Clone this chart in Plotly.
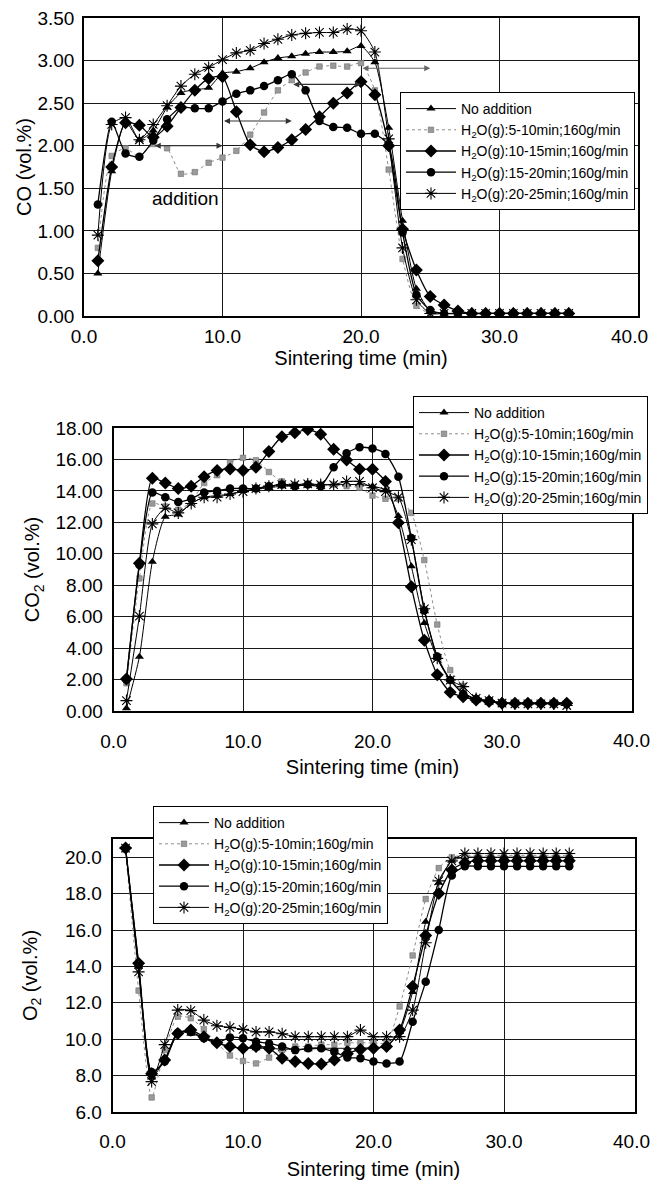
import plotly.graph_objects as go

# ---------------- data ----------------
t = list(range(1, 36))

series_names = [
    "No addition",
    "H<sub>2</sub>O(g):5-10min;160g/min",
    "H<sub>2</sub>O(g):10-15min;160g/min",
    "H<sub>2</sub>O(g):15-20min;160g/min",
    "H<sub>2</sub>O(g):20-25min;160g/min",
]

# CO (vol.%)
co_none = [0.50, 1.70, 2.28, 2.07, 2.18, 2.45, 2.62, 2.66, 2.68, 2.85, 2.87, 2.91, 2.98, 3.03, 3.05,
           3.08, 3.10, 3.10, 3.11, 3.17, 2.98, 2.21, 1.12, 0.32, 0.06, 0.03, 0.03, 0.03, 0.03, 0.03,
           0.03, 0.03, 0.03, 0.03, 0.03]
co_5_10 = [0.80, 1.88, 1.97, 1.87, 2.02, 1.97, 1.67, 1.69, 1.80, 1.86, 1.94, 2.13, 2.39, 2.65, 2.77,
           2.86, 2.93, 2.94, 2.93, 2.97, 2.65, 1.72, 0.67, 0.12, 0.03, 0.03, 0.03, 0.03, 0.03, 0.03,
           0.03, 0.03, 0.03, 0.03, 0.03]
co_10_15 = [0.65, 1.75, 2.27, 2.24, 2.10, 2.23, 2.45, 2.65, 2.79, 2.81, 2.40, 2.01, 1.93, 1.98, 2.07,
            2.19, 2.34, 2.50, 2.62, 2.75, 2.60, 2.00, 1.02, 0.54, 0.23, 0.13, 0.06, 0.03, 0.03, 0.03,
            0.03, 0.03, 0.03, 0.03, 0.03]
co_15_20 = [1.31, 2.28, 1.91, 1.87, 2.06, 2.31, 2.45, 2.44, 2.44, 2.52, 2.61, 2.65, 2.70, 2.77, 2.84,
            2.65, 2.29, 2.22, 2.21, 2.14, 2.14, 2.00, 0.98, 0.25, 0.07, 0.03, 0.03, 0.03, 0.03, 0.03,
            0.03, 0.03, 0.03, 0.03, 0.03]
co_20_25 = [0.95, 2.25, 2.33, 2.07, 2.25, 2.47, 2.70, 2.84, 2.92, 3.01, 3.09, 3.12, 3.20, 3.25, 3.30,
            3.32, 3.33, 3.33, 3.37, 3.35, 3.10, 2.08, 0.80, 0.19, 0.03, 0.03, 0.03, 0.03, 0.03, 0.03,
            0.03, 0.03, 0.03, 0.03, 0.03]

# CO2 (vol.%)
co2_none = [0.17, 3.45, 9.5, 12.35, 12.5, 13.2, 13.6, 13.7, 13.8, 14.0, 14.1, 14.2, 14.3, 14.3, 14.4,
            14.4, 14.4, 14.4, 14.4, 14.3, 14.05, 12.4, 9.2, 5.6, 3.35, 2.0, 1.2, 0.74, 0.6, 0.5,
            0.5, 0.5, 0.5, 0.5, 0.5]
co2_5_10 = [1.76, 8.43, 13.2, 13.0, 12.8, 13.3, 14.5, 15.0, 15.8, 16.1, 15.95, 15.2, 14.6, 14.4, 14.4,
            14.4, 14.4, 14.3, 14.2, 13.7, 13.5, 13.5, 12.6, 9.6, 5.5, 2.6, 1.6, 0.8, 0.6, 0.5,
            0.5, 0.5, 0.5, 0.5, 0.5]
co2_10_15 = [2.03, 9.4, 14.8, 14.5, 14.15, 14.3, 14.9, 15.3, 15.4, 15.3, 15.5, 16.5, 17.45, 17.7, 17.9,
             17.6, 16.65, 15.97, 15.37, 15.37, 14.6, 11.98, 7.9, 4.5, 2.3, 1.2, 0.9, 0.7, 0.6, 0.5,
             0.5, 0.5, 0.5, 0.5, 0.5]
co2_15_20 = [2.0, 9.28, 13.9, 13.6, 13.3, 13.5, 13.9, 14.0, 14.15, 14.15, 14.15, 14.3, 14.4, 14.3, 14.4,
             14.3, 15.5, 16.4, 16.77, 16.7, 16.35, 14.9, 11.0, 6.4, 3.46, 1.97, 1.1, 0.74, 0.66, 0.5,
             0.5, 0.5, 0.5, 0.5, 0.5]
co2_20_25 = [0.66, 6.04, 11.9, 12.9, 12.6, 13.2, 13.6, 13.6, 13.8, 13.95, 14.15, 14.3, 14.4, 14.4, 14.44,
             14.4, 14.4, 14.6, 14.6, 14.2, 13.95, 13.6, 10.9, 6.5, 3.35, 1.97, 1.55, 0.8, 0.66, 0.5,
             0.45, 0.45, 0.45, 0.45, 0.35]

# O2 (vol.%)
o2_none = [20.5, 14.0, 7.9, 8.86, 10.4, 10.3, 10.1, 9.8, 9.6, 9.5, 9.5, 9.5, 9.45, 9.45, 9.45,
           9.5, 9.5, 9.5, 9.5, 9.55, 9.6, 10.4, 12.6, 16.45, 18.6, 19.8, 20.0, 20.0, 20.0, 20.0,
           20.0, 20.0, 20.0, 20.0, 20.0]
o2_5_10 = [20.4, 12.67, 6.8, 9.4, 11.24, 11.15, 10.54, 9.8, 9.1, 8.8, 8.67, 8.99, 9.4, 9.6, 9.6,
           9.7, 9.7, 9.8, 9.8, 9.8, 9.8, 11.8, 14.6, 17.7, 19.4, 20.0, 20.1, 20.1, 20.1, 20.1,
           20.1, 20.1, 20.1, 20.1, 20.1]
o2_10_15 = [20.5, 14.17, 8.1, 8.86, 10.32, 10.5, 10.14, 9.8, 9.6, 9.5, 9.6, 9.5, 8.95, 8.77, 8.67,
            8.64, 8.86, 9.2, 9.44, 9.5, 9.6, 10.5, 12.9, 15.7, 18.0, 19.3, 19.7, 19.8, 19.8, 19.8,
            19.8, 19.8, 19.8, 19.8, 19.8]
o2_15_20 = [20.5, 14.08, 8.2, 8.77, 10.36, 10.4, 10.05, 9.8, 10.1, 10.05, 9.86, 9.77, 9.6, 9.4, 9.5,
            9.5, 9.3, 9.0, 8.95, 8.77, 8.67, 8.77, 10.96, 13.16, 16.0, 19.0, 19.5, 19.5, 19.5, 19.5,
            19.5, 19.5, 19.5, 19.5, 19.5]
o2_20_25 = [20.5, 13.7, 7.67, 9.7, 11.6, 11.57, 11.05, 10.74, 10.65, 10.54, 10.4, 10.4, 10.3, 10.14, 10.14,
            10.14, 10.14, 10.14, 10.5, 10.14, 10.14, 10.14, 11.6, 15.3, 18.7, 19.8, 20.2, 20.2, 20.2, 20.2,
            20.2, 20.2, 20.2, 20.2, 20.2]

x_ticks = [0, 10, 20, 30]
x_last_tick = 40

# addition periods (start, end, level) for CO arrows
arrow_periods = [(5, 10, 2.00), (10, 15, 2.29), (15, 20, 2.72), (20, 25, 2.91)]

# ---------------- styles ----------------
FONT = "Liberation Sans, Arial, sans-serif"
styles = [
    dict(line=dict(color="black", width=1), marker=dict(symbol="triangle-up", size=8, color="black")),
    dict(line=dict(color="#8c8c8c", width=1, dash="dot"),
         marker=dict(symbol="square", size=5.5, color="#9a9a9a", line=dict(color="#707070", width=0.6))),
    dict(line=dict(color="black", width=1.3), marker=dict(symbol="diamond", size=10, color="black")),
    dict(line=dict(color="black", width=1.3), marker=dict(symbol="circle", size=8.5, color="black")),
    dict(line=dict(color="black", width=1),
         marker=dict(symbol="asterisk-open", size=10, color="black", line=dict(color="black", width=1.1))),
]

fig = go.Figure()

panels = [
    ("x", "y", "legend", [co_none, co_5_10, co_10_15, co_15_20, co_20_25]),
    ("x2", "y2", "legend2", [co2_none, co2_5_10, co2_10_15, co2_15_20, co2_20_25]),
    ("x3", "y3", "legend3", [o2_none, o2_5_10, o2_10_15, o2_15_20, o2_20_25]),
]

for xa, ya, lg, data in panels:
    for i, vals in enumerate(data):
        fig.add_trace(go.Scatter(
            x=t, y=vals, mode="lines+markers", name=series_names[i],
            line=dict(shape="spline", smoothing=0.6, **styles[i]["line"]),
            marker=styles[i]["marker"], xaxis=xa, yaxis=ya, legend=lg,
        ))

W, H = 651, 1182

def xd(l, r):
    return [l / W, r / W]

def yd(top, bottom):
    return [1 - bottom / H, 1 - top / H]

TICK = 19
TITLE = 20

axis_common = dict(
    showgrid=True, gridcolor="#1a1a1a", gridwidth=1,
    showline=True, linecolor="black", linewidth=1.5, mirror=True, automargin=False,
    zeroline=False, ticks="", tickfont=dict(family=FONT, size=TICK, color="black"),
)

def xaxis(dom, anchor, standoff_lbl, title_standoff):
    return dict(domain=dom, anchor=anchor, range=[0, 40], tickmode="array",
                tickvals=x_ticks, ticktext=[f"{v:.1f}" for v in x_ticks],
                ticklabelstandoff=standoff_lbl,
                title=dict(text="Sintering time (min)", font=dict(family=FONT, size=TITLE, color="black"),
                           standoff=title_standoff),
                **axis_common)

def yaxis(dom, anchor, rng, dtick, fmt, title, standoff_lbl, title_standoff):
    return dict(domain=dom, anchor=anchor, range=rng, dtick=dtick, tick0=rng[0], tickformat=fmt,
                ticklabelstandoff=standoff_lbl,
                title=dict(text=title, font=dict(family=FONT, size=TITLE, color="black"),
                           standoff=title_standoff),
                **axis_common)

legend_common = dict(bgcolor="white", bordercolor="black", borderwidth=1,
                     font=dict(family=FONT, size=14, color="black"),
                     xanchor="left", yanchor="top", itemwidth=50, tracegroupgap=0)

annotations = []
for (a, b, lvl) in arrow_periods:
    annotations.append(dict(
        x=b, y=lvl, ax=a, ay=lvl, xref="x", yref="y", axref="x", ayref="y",
        text="", showarrow=True, arrowhead=2, arrowside="end+start", arrowsize=1,
        arrowwidth=1.2, arrowcolor="#333333" if b < 25 else "#666666",
    ))
annotations.append(dict(x=7.35, y=1.38, xref="x", yref="y", text="addition", showarrow=False,
                        font=dict(family=FONT, size=19, color="black")))

# last x tick label of each panel, nudged to stay inside the page as in the original
for xr, yr, dy, dx in [("x", "y domain", -20, -9), ("x2", "y2 domain", -29, 0), ("x3", "y3 domain", -29, -3)]:
    annotations.append(dict(x=x_last_tick, y=0, xref=xr, yref=yr, text=f"{x_last_tick:.1f}",
                            showarrow=False, xanchor="center", yanchor="middle",
                            xshift=dx, yshift=dy, font=dict(family=FONT, size=TICK, color="black")))

fig.update_layout(
    width=W, height=H, margin=dict(l=0, r=0, t=0, b=0, autoexpand=False),
    paper_bgcolor="white", plot_bgcolor="white",
    font=dict(family=FONT, color="black"),
    xaxis=xaxis(xd(84, 638), "y", 2, 2),
    yaxis=yaxis(yd(18, 316), "x", [0, 3.5], 0.5, ".2f", "CO (vol.%)", 4, 0),
    xaxis2=xaxis(xd(113.5, 631.5), "y2", 12, 9),
    yaxis2=yaxis(yd(428, 711), "x2", [0, 18], 2, ".2f", "CO<sub>2</sub> (vol.%)", 5, 10),
    xaxis3=xaxis(xd(112.5, 634.5), "y3", 11, 11),
    yaxis3=yaxis(yd(839, 1112), "x3", [6, 21], 2, ".1f", "O<sub>2</sub> (vol.%)", 5, 22),
    legend=dict(x=400 / W, y=1 - 92 / H, **legend_common),
    legend2=dict(x=413 / W, y=1 - 396 / H, **legend_common),
    legend3=dict(x=153 / W, y=1 - 806 / H, **legend_common),
    annotations=annotations,
)

fig.write_html("out.html", config={"displayModeBar": False},
               post_script="document.body.style.margin='0px';")
